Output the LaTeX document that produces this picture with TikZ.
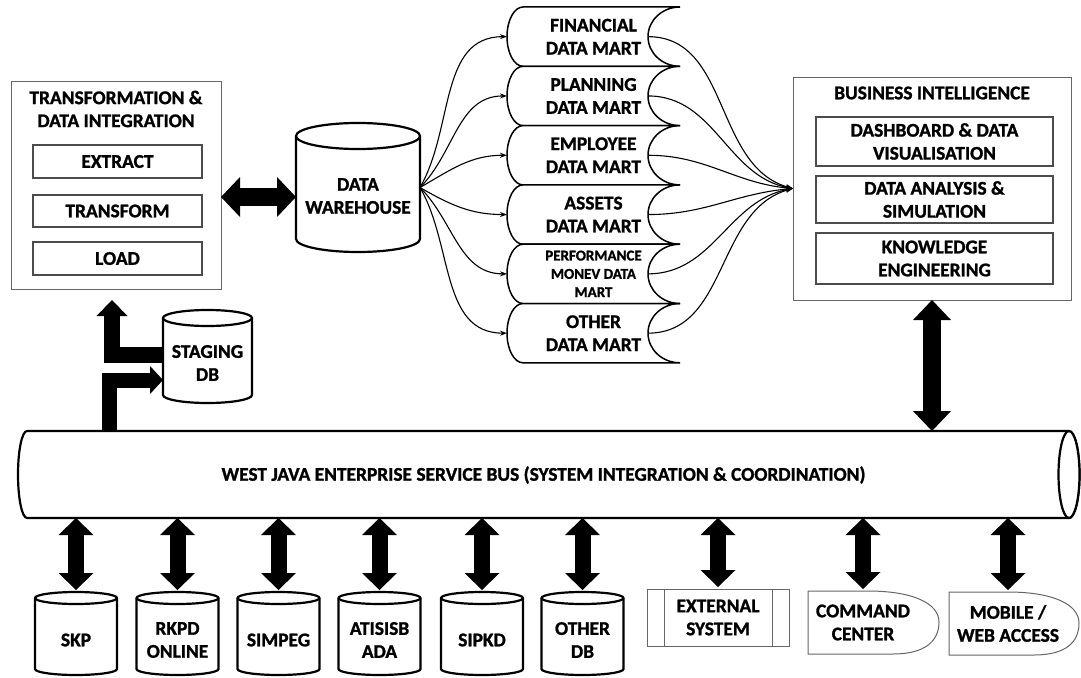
\documentclass[tikz,border=0pt]{standalone}
\usepackage{fontspec}
\setmainfont{Carlito}[BoldFeatures={FakeBold=1.2}]
\usetikzlibrary{arrows.meta}
% cylinder outline: cx, top, bottom, rx, ry
\newcommand\dbcyl[5]{%
  \draw[cyl] ({#1-#4},{#2+#5}) -- ({#1-#4},{#3-#5})
     arc[start angle=180,end angle=360,x radius=#4pt,y radius=#5pt]
     -- ({#1+#4},{#2+#5})
     arc[start angle=0,end angle=180,x radius=#4pt,y radius=#5pt] -- cycle;
  \draw[cyl,fill=none] ({#1-#4},{#2+#5}) arc[start angle=180,end angle=360,x radius=#4pt,y radius=#5pt];
}
% data mart: name, top, text, text style
\newcommand\mart[4]{%
  \draw[martline] (523,#2) -- (680,#2)
     arc[start angle=90,end angle=270,x radius=32pt,y radius=29.65pt]
     -- (523,{#2+59.3})
     arc[start angle=270,end angle=90,x radius=16pt,y radius=29.65pt] -- cycle;
  \node[ghost,#4,minimum width=173pt,minimum height=59.3pt] (#1) at (593.5,{#2+29.65}) {#3};
}
% bottom database: name, cx, text
\newcommand\botdb[3]{%
  \dbcyl{#2}{592}{675}{41}{6}
  \node[ghost,minimum width=82pt,minimum height=83pt] (#1) at (#2,633.5) {};
  \node[lbl] (#1t) at (#2,640) {#3};
}
\begin{document}
\begin{tikzpicture}[x=1pt,y=-1pt,
  lbl/.style={font=\bfseries\fontsize{19.4}{23}\selectfont,align=center,inner sep=0pt},
  small/.style={font=\bfseries\fontsize{15}{18.3}\selectfont,align=center,inner sep=0pt},
  ghost/.style={inner sep=0pt,outer sep=0pt},
  outerbox/.style={draw=black!60,line width=1pt,inner sep=0pt,outer sep=0pt,fill=white},
  innerbox/.style={lbl,draw=black!70,line width=1.3pt,outer sep=0pt},
  cyl/.style={draw=black,line width=2.2pt,fill=white},
  martline/.style={draw=black,line width=1.5pt,fill=white},
  flow/.style={line width=1.1pt,-{Stealth[length=7pt,width=5pt]}},
  fatboth/.style n args={3}{line width=#1,<->,>={Triangle[width=#2 0 0,length=#3 0 0,line width=0pt 0 0]}},
  fatone/.style n args={3}{line width=#1,->,>={Triangle[width=#2 0 0,length=#3 0 0,line width=0pt 0 0]},line join=miter},
]
\useasboundingbox[fill=white] (0,0) rectangle (1081,677);

% ---------- ETL box ----------
\node[outerbox,minimum width=210pt,minimum height=208pt] (etl) at (116,185) {};
\node[lbl] (etlt) at (116,109) {TRANSFORMATION \&\\DATA INTEGRATION};
\node[innerbox,minimum width=169pt,minimum height=33pt] (extr) at (117.5,161.5) {EXTRACT};
\node[innerbox,minimum width=169pt,minimum height=32pt] (trf) at (117.5,211) {TRANSFORM};
\node[innerbox,minimum width=169pt,minimum height=33pt] (load) at (117.5,258.5) {LOAD};

% ---------- Data warehouse ----------
\dbcyl{358}{123}{252}{62}{13}
\node[ghost,minimum width=124pt,minimum height=129pt] (dw) at (358,187.5) {};
\node[lbl] (dwt) at (358,196) {DATA\\WAREHOUSE};

% ---------- Staging DB ----------
\dbcyl{207.5}{310}{403}{44.5}{8}
\node[ghost,minimum width=89pt,minimum height=93pt] (stg) at (207.5,356.5) {};
\node[lbl] (stgt) at (207.5,363) {STAGING\\DB};

% ---------- Data marts ----------
\mart{fin}{7}{FINANCIAL\\DATA MART}{lbl}
\mart{pla}{66.3}{PLANNING\\DATA MART}{lbl}
\mart{emp}{125.6}{EMPLOYEE\\DATA MART}{lbl}
\mart{ass}{184.9}{ASSETS\\DATA MART}{lbl}
\mart{per}{244.2}{PERFORMANCE\\MONEV DATA\\MART}{small}
\mart{oth}{303.5}{OTHER\\DATA MART}{lbl}

% ---------- Business intelligence ----------
\node[outerbox,minimum width=278pt,minimum height=223pt] (bi) at (932,188.5) {};
\node[lbl] (bit) at (932,93) {BUSINESS INTELLIGENCE};
\node[innerbox,minimum width=237pt,minimum height=49pt] (dash) at (934.5,141.5) {DASHBOARD \& DATA\\VISUALISATION};
\node[innerbox,minimum width=237pt,minimum height=47pt] (ana) at (934.5,199.5) {DATA ANALYSIS \&\\SIMULATION};
\node[innerbox,minimum width=237pt,minimum height=51pt] (know) at (934.5,258.5) {KNOWLEDGE\\ENGINEERING};

% ---------- ESB ----------
\draw[cyl] (1069,431) -- (27,431)
   arc[start angle=90,end angle=270,x radius=9pt,y radius=43.5pt]
   -- (1069,518)
   arc[start angle=-90,end angle=90,x radius=10.5pt,y radius=43.5pt] -- cycle;
\draw[cyl] (1069,474.5) ellipse[x radius=10.5pt,y radius=43.5pt];
\node[ghost,minimum width=1062pt,minimum height=87pt] (esb) at (549,474.5) {};
\node[lbl] (esbt) at (543.5,475) {WEST JAVA ENTERPRISE SERVICE BUS (SYSTEM INTEGRATION \& COORDINATION)};

% ---------- bottom systems ----------
\botdb{skp}{76}{SKP}
\botdb{rkpd}{177.5}{RKPD\\ONLINE}
\botdb{simpeg}{278.5}{SIMPEG}
\botdb{atis}{379.5}{ATISISB\\ADA}
\botdb{sipkd}{482}{SIPKD}
\botdb{odb}{582.5}{OTHER\\DB}

\node[outerbox,lbl,draw=black!60,line width=1pt,minimum width=142pt,minimum height=57pt] (exts) at (718,617.5) {EXTERNAL\\SYSTEM};
\draw[draw=black!60,line width=1pt] ([xshift=17pt]exts.north west) -- ([xshift=17pt]exts.south west);
\draw[draw=black!60,line width=1pt] ([xshift=-17pt]exts.north east) -- ([xshift=-17pt]exts.south east);

\draw[outerbox] (808,591) -- (868,591) .. controls (912,591) and (939,603) .. (939,622)
   .. controls (939,641) and (925,654) .. (893,654) -- (808,654) -- cycle;
\node[ghost,lbl,minimum width=110pt,minimum height=63pt] (cmd) at (863,622.5) {COMMAND\\CENTER};

\draw[outerbox] (949,592) -- (1008,592) .. controls (1052,592) and (1079,604) .. (1079,623)
   .. controls (1079,642) and (1066,655) .. (1034,655) -- (949,655) -- cycle;
\node[ghost,lbl,minimum width=118pt,minimum height=63pt] (mob) at (1008,623.5) {MOBILE /\\WEB ACCESS};

% ---------- fans ----------
\draw[flow] (dw.east) to[out=60,in=180] (fin.west);
\draw[flow] (dw.east) to[out=45,in=180] (pla.west);
\draw[flow] (dw.east) to[out=30,in=180] (emp.west);
\draw[flow] (dw.east) to[out=-30,in=180] (ass.west);
\draw[flow] (dw.east) to[out=-45,in=180] (per.west);
\draw[flow] (dw.east) to[out=-60,in=180] (oth.west);
\draw[flow] ([xshift=-32pt]fin.east) to[out=0,in=165] (bi.west);
\draw[flow] ([xshift=-32pt]pla.east) to[out=0,in=170] (bi.west);
\draw[flow] ([xshift=-32pt]emp.east) to[out=0,in=175] (bi.west);
\draw[flow] ([xshift=-32pt]ass.east) to[out=0,in=185] (bi.west);
\draw[flow] ([xshift=-32pt]per.east) to[out=0,in=190] (bi.west);
\draw[flow] ([xshift=-32pt]oth.east) to[out=0,in=195] (bi.west);

% ---------- fat arrows ----------
\draw[fatboth={18pt}{40pt}{19pt}] (etl.east |- 0,197) -- (dw.west |- 0,197);
\draw[fatboth={18pt}{38pt}{20pt}] (bi.south) -- (bi.south |- esb.north);
\foreach \n in {skp,rkpd,simpeg,atis,sipkd,odb,exts,cmd,mob}{
  \draw[fatboth={16pt}{35pt}{17pt},shorten >=2pt] (\n.north |- esb.south) -- (\n.north);
}
\coordinate (upTip) at (112,300);
\draw[fatone={16pt}{31pt}{16pt}] (stg.west |- 0,355) -| (upTip);
\draw[fatone={15pt}{28pt}{13pt}] (esb.north -| 109.5,0) |- (stg.west |- 0,380);
\end{tikzpicture}
\end{document}
